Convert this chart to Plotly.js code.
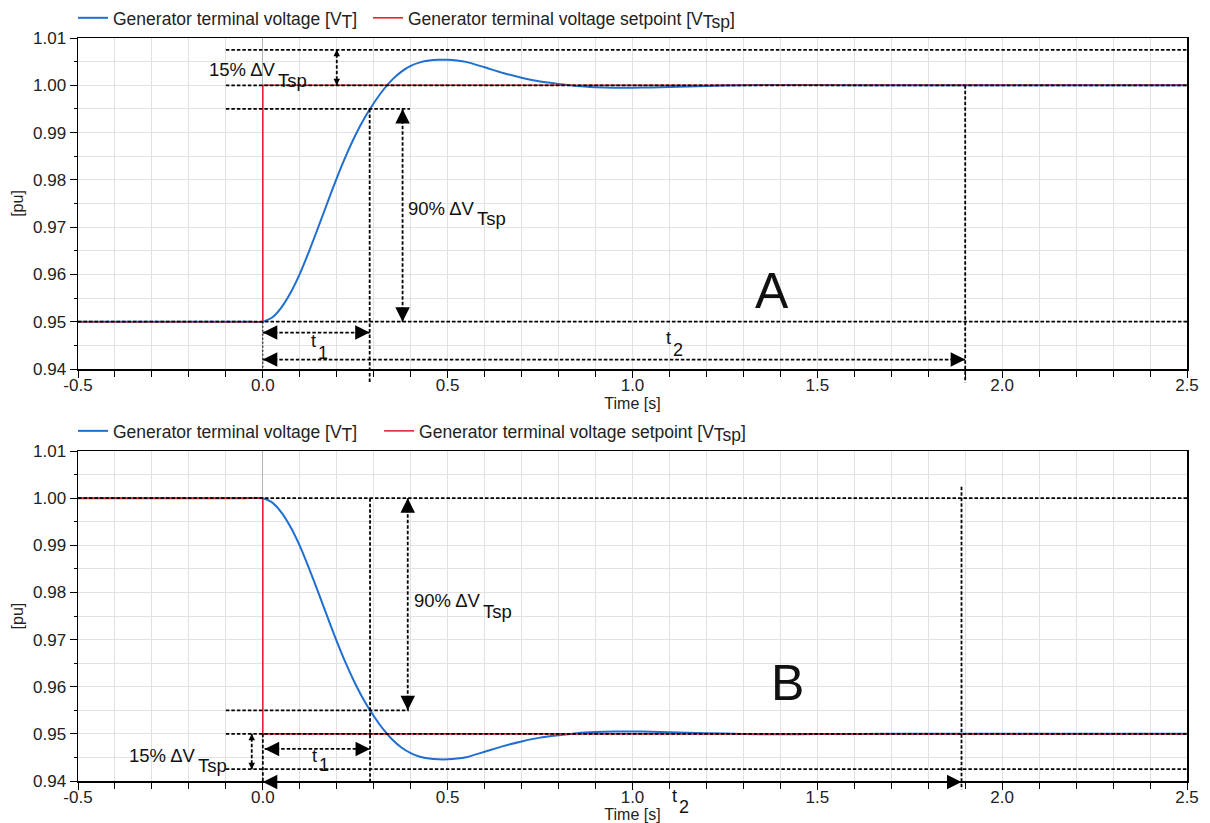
<!DOCTYPE html>
<html><head><meta charset="utf-8">
<script src="https://cdn.plot.ly/plotly-3.0.1.min.js"></script>
<style>html,body{margin:0;padding:0;background:#fff}#chart{width:1210px;height:823px}</style>
</head><body><div id="chart"></div>
<script>
// ---- data ----
const timeA = [-0.5, -0.05, 0, 0.025, 0.05, 0.075, 0.1, 0.125, 0.15, 0.175, 0.2, 0.225, 0.25, 0.275, 0.3, 0.325, 0.35, 0.375, 0.4, 0.425, 0.45, 0.475, 0.5, 0.525, 0.55, 0.6, 0.65, 0.7, 0.75, 0.8, 0.85, 0.9, 0.95, 1.0, 1.05, 1.1, 1.2, 1.3, 1.4, 1.5, 1.7, 2.5];
const voltA = [0.95, 0.95, 0.95, 0.95088, 0.953, 0.95612, 0.96012, 0.96488, 0.97, 0.97525, 0.98038, 0.98512, 0.98938, 0.99308, 0.9962, 0.99895, 1.0012, 1.0029, 1.0041, 1.00485, 1.00525, 1.0054, 1.0054, 1.00525, 1.00495, 1.0038, 1.0026, 1.0016, 1.0008, 1.0003, 0.99985, 0.9996, 0.99948, 0.9995, 0.99955, 0.99965, 0.99985, 1.00002, 1.00008, 1.00005, 1.0, 1.0];
const timeB = [-0.5, -0.05, 0, 0.025, 0.05, 0.075, 0.1, 0.125, 0.15, 0.175, 0.2, 0.225, 0.25, 0.275, 0.3, 0.325, 0.35, 0.375, 0.4, 0.425, 0.45, 0.475, 0.5, 0.525, 0.55, 0.6, 0.65, 0.7, 0.75, 0.8, 0.85, 0.9, 0.95, 1.0, 1.05, 1.1, 1.2, 1.3, 1.4, 1.5, 1.7, 2.5];
const voltB = [1.0, 1.0, 1.0, 0.99912, 0.997, 0.99388, 0.98988, 0.98512, 0.98, 0.97475, 0.96962, 0.96488, 0.96062, 0.95692, 0.9538, 0.95105, 0.9488, 0.9471, 0.9459, 0.94515, 0.94475, 0.9446, 0.9446, 0.94475, 0.94505, 0.9462, 0.9474, 0.9484, 0.9492, 0.9497, 0.95015, 0.9504, 0.95052, 0.9505, 0.95045, 0.95035, 0.95015, 0.94998, 0.94992, 0.94995, 0.95, 0.95];
const setpointTime = [-0.5, 0, 0, 2.5];
const setpointA = [0.95, 0.95, 1.0, 1.0];
const setpointB = [1.0, 1.0, 0.95, 0.95];

const xTickVals = [-0.5, 0, 0.5, 1, 1.5, 2, 2.5];
const xTickText = ['-0.5', '0.0', '0.5', '1.0', '1.5', '2.0', '2.5'];
const yTickVals = [0.94, 0.95, 0.96, 0.97, 0.98, 0.99, 1.0, 1.01];
const yTickText = ['0.94', '0.95', '0.96', '0.97', '0.98', '0.99', '1.00', '1.01'];

// marker levels / times used by the annotations
const levelsA = {low: 0.95, high: 1.0, band90: 0.995, band15: 1.0075, t1: 0.289, t2: 1.9};
const levelsB = {low: 0.95, high: 1.0, band90: 0.955, band15: 0.9425, t1: 0.29, t2: 1.89};

const LEG = 17.5;
const nameVT = 'Generator terminal voltage [V<sub><span style="font-size:' + LEG + 'px">T</span></sub>]';
const nameVTsp = 'Generator terminal voltage setpoint [V<sub><span style="font-size:' + LEG + 'px">Tsp</span></sub>]';

const BLUE = '#1f6fd1', RED = '#e8252b';
const FONT = 'Liberation Sans, Arial, sans-serif';

const traces = [
  {x: timeA, y: voltA, xaxis: 'x', yaxis: 'y', mode: 'lines', name: nameVT, line: {color: BLUE, width: 2, shape: 'spline', smoothing: 0.5}, legend: 'legend'},
  {x: setpointTime, y: setpointA, xaxis: 'x', yaxis: 'y', mode: 'lines', name: nameVTsp, line: {color: RED, width: 1.6}, legend: 'legend2'},
  {x: timeB, y: voltB, xaxis: 'x2', yaxis: 'y2', mode: 'lines', name: nameVT, line: {color: BLUE, width: 2, shape: 'spline', smoothing: 0.5}, legend: 'legend3'},
  {x: setpointTime, y: setpointB, xaxis: 'x2', yaxis: 'y2', mode: 'lines', name: nameVTsp, line: {color: RED, width: 1.6}, legend: 'legend4'}
];

const DASH = {color: '#000', width: 1.8, dash: '3.5px,2px'};
const DOT = {color: '#000', width: 1, dash: '2px,2px'};
const frac = v => (v - 0.94) / 0.07;

function hline(xr, yr, y, x0, x1, line) {
  return {type: 'line', xref: xr, yref: yr, x0: x0, x1: x1, y0: y, y1: y, line: line || DASH, layer: 'above'};
}
function vline(xr, yr, x, y0, y1, line) {
  return {type: 'line', xref: xr, yref: yr, x0: x, x1: x, y0: y0, y1: y1, line: line || DASH, layer: 'above'};
}

const shapes = [
  // A
  hline('x', 'y', levelsA.band15, -0.1, 2.5),
  hline('x', 'y', levelsA.high, -0.1, 2.5),
  hline('x', 'y', levelsA.band90, -0.1, 0.398),
  hline('x', 'y', levelsA.low, -0.5, 2.5),
  vline('x', 'y domain', levelsA.t1, frac(levelsA.band90), -0.041),
  vline('x', 'y domain', levelsA.t2, frac(levelsA.high), -0.041),
  vline('x', 'y domain', 0, frac(levelsA.low), 0, DOT),
  vline('x', 'y', 0.2, levelsA.high, levelsA.band15),
  vline('x', 'y', 0.378, levelsA.low, levelsA.band90),
  hline('x', 'y', 0.9477, 0, levelsA.t1),
  hline('x', 'y', 0.942, 0, levelsA.t2),
  // B
  hline('x2', 'y2', levelsB.high, -0.5, 2.5),
  hline('x2', 'y2', levelsB.band90, -0.1, 0.395),
  hline('x2', 'y2', levelsB.low, -0.1, 2.5),
  hline('x2', 'y2', levelsB.band15, -0.1, 2.5),
  vline('x2', 'y2 domain', 0, frac(levelsB.low), 0),
  vline('x2', 'y2 domain', levelsB.t1, frac(levelsB.high), 0),
  vline('x2', 'y2 domain', levelsB.t2, frac(1.0024), -0.026),
  vline('x2', 'y2', 0.392, levelsB.band90, levelsB.high),
  vline('x2', 'y2', -0.03, levelsB.band15, levelsB.low),
  hline('x2', 'y2', 0.9468, 0.005, levelsB.t1),
  hline('x2', 'y2 domain', frac(0.9398), 0, levelsB.t2)
];

function head(xr, yr, x, y, dir, big) {
  const L = big ? 13 : 6;
  const off = {left: [L, 0], right: [-L, 0], up: [0, L], down: [0, -L]}[dir];
  return {xref: xr, yref: yr, x: x, y: y, ax: off[0], ay: off[1], text: '', showarrow: true,
          arrowhead: 2, arrowsize: big ? 2.9 : 1.3, arrowwidth: 1, arrowcolor: '#000'};
}
function label(xr, yr, x, y, text, anchor, size) {
  return {xref: xr, yref: yr, x: x, y: y, text: text, showarrow: false, xanchor: anchor, yanchor: 'middle',
          borderpad: 0, font: {family: FONT, size: size || 18, color: '#111'}};
}

const annotations = [
  head('x', 'y', 0.2, levelsA.band15, 'up', false),
  head('x', 'y', 0.2, levelsA.high, 'down', false),
  head('x', 'y', 0.378, levelsA.band90, 'up', true),
  head('x', 'y', 0.378, levelsA.low, 'down', true),
  head('x', 'y', 0, 0.9477, 'left', true),
  head('x', 'y', levelsA.t1, 0.9477, 'right', true),
  head('x', 'y', 0, 0.942, 'left', true),
  head('x', 'y', levelsA.t2, 0.942, 'right', true),
  head('x2', 'y2', 0.392, levelsB.high, 'up', true),
  head('x2', 'y2', 0.392, levelsB.band90, 'down', true),
  head('x2', 'y2', -0.03, levelsB.low, 'up', false),
  head('x2', 'y2', -0.03, levelsB.band15, 'down', false),
  head('x2', 'y2', 0.005, 0.9468, 'left', true),
  head('x2', 'y2', levelsB.t1, 0.9468, 'right', true),
  head('x2', 'y2 domain', 0, frac(0.9398), 'left', true),
  head('x2', 'y2 domain', levelsB.t2, frac(0.9398), 'right', true),

  label('x', 'y', 0.037, 1.0034, '15% ΔV', 'right', 18.5),
  label('x', 'y', 0.037, 1.0011, 'Tsp', 'left', 18.5),
  label('x', 'y', 0.5778, 0.974, '90% ΔV', 'right', 18.5),
  label('x', 'y', 0.5778, 0.9719, 'Tsp', 'left', 18.5),
  label('x', 'y', 0.1452, 0.9459, 't', 'right'),
  label('x', 'y', 0.1452, 0.94336, '1', 'left'),
  label('x', 'y', 1.1055, 0.94653, 't', 'right'),
  label('x', 'y', 1.1055, 0.944, '2', 'left'),
  label('x', 'y', 1.3787, 0.9566, 'A', 'center', 50),

  label('x2', 'y2', -0.1793, 0.94547, '15% ΔV', 'right', 18.5),
  label('x2', 'y2', -0.1793, 0.94336, 'Tsp', 'left', 18.5),
  label('x2', 'y2', 0.5916, 0.97819, '90% ΔV', 'right', 18.5),
  label('x2', 'y2', 0.5916, 0.97587, 'Tsp', 'left', 18.5),
  label('x2', 'y2', 0.148, 0.94526, 't', 'right'),
  label('x2', 'y2', 0.148, 0.94336, '1', 'left'),
  label('x2', 'y2 domain', 1.1244, frac(0.93682), 't', 'right'),
  label('x2', 'y2 domain', 1.1244, frac(0.93449), '2', 'left'),
  label('x2', 'y2', 1.4192, 0.9608, 'B', 'center', 50)
];

function xAxis(anchor) {
  return {
    anchor: anchor, domain: [0, 1], range: [-0.5, 2.5], tickmode: 'array', tickvals: xTickVals, ticktext: xTickText,
    ticks: 'outside', ticklen: 7, tickcolor: '#000', tickwidth: 1, ticklabelstandoff: -7,
    showline: true, linecolor: '#000', linewidth: 1.5, mirror: true,
    showgrid: true, gridcolor: '#e2e2e2', gridwidth: 1,
    zeroline: true, zerolinecolor: '#b4b4b4', zerolinewidth: 1,
    minor: {tickmode: 'linear', tick0: 0, dtick: 0.1, showgrid: true, gridcolor: '#e2e2e2', gridwidth: 1, ticks: 'outside', ticklen: 6, tickcolor: '#000'},
    tickfont: {family: FONT, size: 17, color: '#222'},
    title: {text: 'Time [s]', font: {family: FONT, size: 16, color: '#222'}, standoff: 0}
  };
}
function yAxis(anchor, domain) {
  return {
    anchor: anchor, domain: domain, range: [0.94, 1.01], tickmode: 'array', tickvals: yTickVals, ticktext: yTickText,
    ticks: 'outside', ticklen: 7, tickcolor: '#000', tickwidth: 1,
    showline: true, linecolor: '#000', linewidth: 1.5, mirror: true,
    showgrid: true, gridcolor: '#e2e2e2', gridwidth: 1, zeroline: false,
    minor: {tickmode: 'linear', tick0: 0.94, dtick: 0.005, showgrid: true, gridcolor: '#e2e2e2', gridwidth: 1, ticks: 'outside', ticklen: 3, tickcolor: '#000'},
    tickfont: {family: FONT, size: 17, color: '#222'},
    title: {text: '[pu]', font: {family: FONT, size: 16, color: '#222'}, standoff: 5}
  };
}

function legendAt(x, y) {
  return {orientation: 'h', x: x, xanchor: 'left', y: y, yanchor: 'middle',
          font: {family: FONT, size: LEG, color: '#222'}, bgcolor: 'rgba(0,0,0,0)', borderwidth: 0};
}

const layout = {
  width: 1210, height: 823,
  margin: {l: 78, r: 23, t: 38, b: 42, autoexpand: false},
  paper_bgcolor: '#fff', plot_bgcolor: '#fff',
  font: {family: FONT, color: '#222'},
  showlegend: true,
  xaxis: xAxis('y'), yaxis: yAxis('x', [0.5545, 1]),
  xaxis2: xAxis('y2'), yaxis2: yAxis('x2', [0, 0.4441]),
  legend: legendAt(-0.0045, 1.027),
  legend2: legendAt(0.2615, 1.027),
  legend3: legendAt(-0.0045, 0.4711),
  legend4: legendAt(0.2715, 0.4711),
  shapes: shapes,
  annotations: annotations
};

Plotly.newPlot('chart', traces, layout, {displayModeBar: false, staticPlot: true});
</script>
</body></html>
